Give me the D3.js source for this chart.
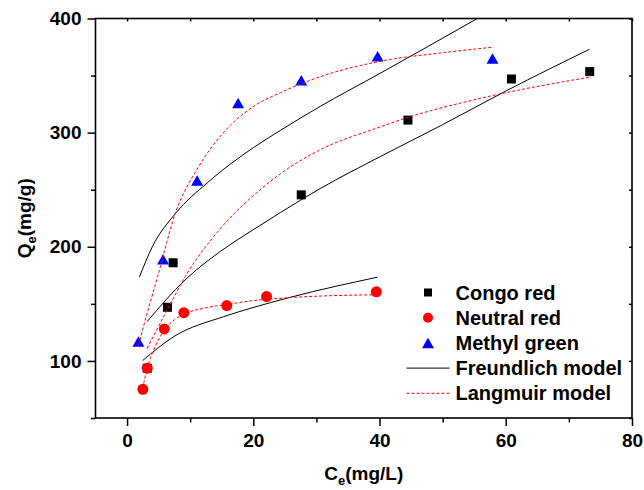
<!DOCTYPE html>
<html><head><meta charset="utf-8">
<script src="https://cdn.jsdelivr.net/npm/d3@7"></script>
<style>
html,body{margin:0;padding:0;background:#fff;}
svg{display:block;font-family:"Liberation Sans",Arial,sans-serif;}
</style></head>
<body><svg id="c" width="644" height="490"></svg>
<script>
// ---- data ----
const congoX   = [3.2, 6.4, 7.3, 27.6, 44.5, 60.9, 73.3];
const congoY   = [93.6, 147, 186, 245.5, 311, 347, 353.5];
const neutralX = [2.5, 3.2, 5.9, 9.0, 15.8, 22.1, 39.5];
const neutralY = [75.2, 93.6, 128, 142.3, 148.5, 156.4, 160.5];
const methylX  = [1.8, 5.7, 11.1, 17.6, 27.6, 39.7, 57.9];
const methylY  = [117, 189, 258, 326, 346, 367, 365];

// Freundlich model curves
const freMethylX  = [1.95, 4, 7.65, 12.7, 20.05, 24.3, 30.6, 40.1, 55.5];
const freMethylY  = [173.4, 200, 229, 256, 287, 302, 323, 352, 400];
const freCongoX   = [3.17, 9.2, 14.8, 20, 24.3, 30.6, 40.1, 50, 60.2, 73.25];
const freCongoY   = [134.4, 171, 196, 215, 230, 251, 279, 307, 337, 373];
const freNeutralX = [2.47, 7.4, 15.3, 19.5, 25.9, 39.7];
const freNeutralY = [100.3, 121.3, 138.8, 146, 155.8, 173.4];

// Langmuir model curves
const lanMethylX  = [1.84, 2.6, 4.85, 7.65, 11.1, 14.8, 20.05, 24.3, 30.6, 40.1, 50, 58.05];
const lanMethylY  = [114, 130, 174, 229.4, 268, 297, 323, 335, 349, 362.5, 370, 374.9];
const lanCongoX   = [3.17, 6.86, 9.23, 14.8, 21.1, 24.3, 30.6, 40.1, 44.3, 55.95, 73.25];
const lanCongoY   = [111, 150, 174, 216, 250, 264, 285, 305, 313, 330, 348.6];
const lanNeutralX = [2.47, 3.17, 4.5, 5.9, 7.5, 9.0, 12, 15.8, 19.5, 25.9, 39.6];
const lanNeutralY = [76, 93, 113, 127, 136, 141, 146, 149.5, 152.5, 155.5, 158];

const xMajor = [0, 20, 40, 60, 80];
const xMinor = [10, 30, 50, 70];
const yMajor = [100, 200, 300, 400];
const yMinor = [50, 150, 250, 350];
const legendLabels = ["Congo red", "Neutral red", "Methyl green", "Freundlich model", "Langmuir model"];

// ---- chart ----
const svg = d3.select("#c");
const L = 95.5, R = 632, T = 18.5, B = 418;
const x = d3.scaleLinear().domain([-5, 80]).range([L, R]);
const y = d3.scaleLinear().domain([50, 400]).range([B, T]);
const zip = (xs, ys) => xs.map((v, i) => [v, ys[i]]);

svg.append("clipPath").attr("id", "pc").append("rect")
  .attr("x", L).attr("y", T).attr("width", R - L).attr("height", B - T);

const plot = svg.append("g").attr("clip-path", "url(#pc)");

// markers
plot.selectAll("rect.cr").data(zip(congoX, congoY)).join("rect").attr("class", "cr")
  .attr("x", d => x(d[0]) - 4.5).attr("y", d => y(d[1]) - 4.5)
  .attr("width", 9).attr("height", 9).attr("fill", "#000");
plot.selectAll("circle.nr").data(zip(neutralX, neutralY)).join("circle").attr("class", "nr")
  .attr("cx", d => x(d[0])).attr("cy", d => y(d[1])).attr("r", 5.5).attr("fill", "#ff0000");
const tri = (cx, cy, w, h) => `M${cx},${cy - h / 2}L${cx + w / 2},${cy + h / 2}L${cx - w / 2},${cy + h / 2}Z`;
plot.selectAll("path.mg").data(zip(methylX, methylY)).join("path").attr("class", "mg")
  .attr("d", d => tri(x(d[0]), y(d[1]), 12, 10.5)).attr("fill", "#0000ff");

// curves
const line = d3.line().x(d => x(d[0])).y(d => y(d[1])).curve(d3.curveMonotoneX);
[[freMethylX, freMethylY], [freCongoX, freCongoY], [freNeutralX, freNeutralY]].forEach(([a, b]) => {
  plot.append("path").attr("d", line(zip(a, b))).attr("fill", "none")
    .attr("stroke", "#000").attr("stroke-width", 1);
});
[[lanMethylX, lanMethylY], [lanCongoX, lanCongoY], [lanNeutralX, lanNeutralY]].forEach(([a, b]) => {
  plot.append("path").attr("d", line(zip(a, b))).attr("fill", "none")
    .attr("stroke", "#ff0000").attr("stroke-width", 1).attr("stroke-dasharray", "3,2");
});

// axes
const axStyle = g => {
  g.select(".domain").remove();
  g.selectAll("line").attr("stroke", "#000").attr("stroke-width", 1.5);
  g.selectAll("text").attr("font-size", 19).attr("font-weight", "bold").attr("fill", "#000");
};
svg.append("g").attr("transform", `translate(0,${B})`)
  .call(d3.axisBottom(x).tickValues(xMajor).tickSize(8).tickPadding(8).tickFormat(d3.format("d"))).call(axStyle);
svg.append("g").attr("transform", `translate(0,${B})`)
  .call(d3.axisBottom(x).tickValues(xMinor).tickSize(4.5).tickFormat("")).call(axStyle);
svg.append("g").attr("transform", `translate(${L},0)`)
  .call(d3.axisLeft(y).tickValues(yMajor).tickSize(8).tickPadding(6).tickFormat(d3.format("d"))).call(axStyle);
svg.append("g").attr("transform", `translate(${L},0)`)
  .call(d3.axisLeft(y).tickValues(yMinor).tickSize(4.5).tickFormat("")).call(axStyle);
// top & right inward ticks
svg.append("g").attr("transform", `translate(0,${T})`)
  .call(d3.axisBottom(x).tickValues(xMajor.concat(xMinor)).tickSize(3).tickFormat("")).call(axStyle);
svg.append("g").attr("transform", `translate(${R},0)`)
  .call(d3.axisLeft(y).tickValues(yMajor.concat(yMinor)).tickSize(3).tickFormat("")).call(axStyle);

// frame
svg.append("rect").attr("x", L).attr("y", T).attr("width", R - L).attr("height", B - T)
  .attr("fill", "none").attr("stroke", "#000").attr("stroke-width", 1.6);

// axis titles
const xt = svg.append("text").attr("x", (L + R) / 2).attr("y", 480).attr("text-anchor", "middle")
  .attr("font-size", 19).attr("font-weight", "bold");
xt.append("tspan").text("C");
xt.append("tspan").attr("font-size", 13).attr("dy", 5).text("e");
xt.append("tspan").attr("dy", -5).text("(mg/L)");

const yt = svg.append("text").attr("transform", `translate(31,${(T + B) / 2}) rotate(-90)`)
  .attr("text-anchor", "middle").attr("font-size", 19).attr("font-weight", "bold");
yt.append("tspan").text("Q");
yt.append("tspan").attr("font-size", 13).attr("dy", 5).text("e");
yt.append("tspan").attr("dy", -5).text("(mg/g)");

// legend
const lg = svg.append("g");
const mx = 428, tx = 455.5, ry0 = 292.5, dr = 25.2;
lg.append("rect").attr("x", mx - 4).attr("y", ry0 - 4).attr("width", 8).attr("height", 8).attr("fill", "#000");
lg.append("circle").attr("cx", mx).attr("cy", ry0 + dr).attr("r", 5).attr("fill", "#ff0000");
lg.append("path").attr("d", tri(mx, ry0 + 2 * dr, 12, 10.5)).attr("fill", "#0000ff");
lg.append("line").attr("x1", 406.5).attr("x2", 449.5).attr("y1", ry0 + 3 * dr).attr("y2", ry0 + 3 * dr)
  .attr("stroke", "#000").attr("stroke-width", 1);
lg.append("line").attr("x1", 406.5).attr("x2", 449.5).attr("y1", ry0 + 4 * dr).attr("y2", ry0 + 4 * dr)
  .attr("stroke", "#ff0000").attr("stroke-width", 1).attr("stroke-dasharray", "3,2");
legendLabels.forEach((t, i) => {
  lg.append("text").attr("x", tx).attr("y", ry0 + i * dr + 7).attr("font-size", 20)
    .attr("font-weight", "bold").text(t);
});
</script></body></html>
